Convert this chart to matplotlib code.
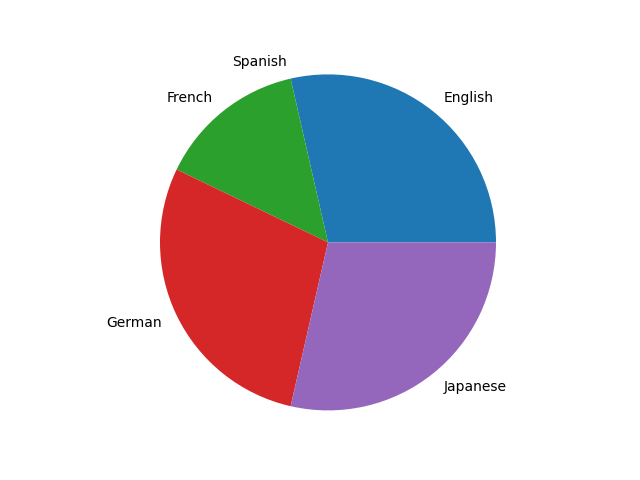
import matplotlib
matplotlib.use("Agg")
import matplotlib.pyplot as plt

languages = ["English", "Spanish", "French", "German", "Japanese"]
counts = [2, 0, 1, 2, 2]

fig, ax = plt.subplots(figsize=(6.4, 4.8), dpi=100)
ax.pie(counts, labels=languages)
# the reference pie fills more of the axes than the default limits give
ax.set_xlim(-1.1, 1.1)
ax.set_ylim(-1.1, 1.1)

fig.savefig("out.png")
